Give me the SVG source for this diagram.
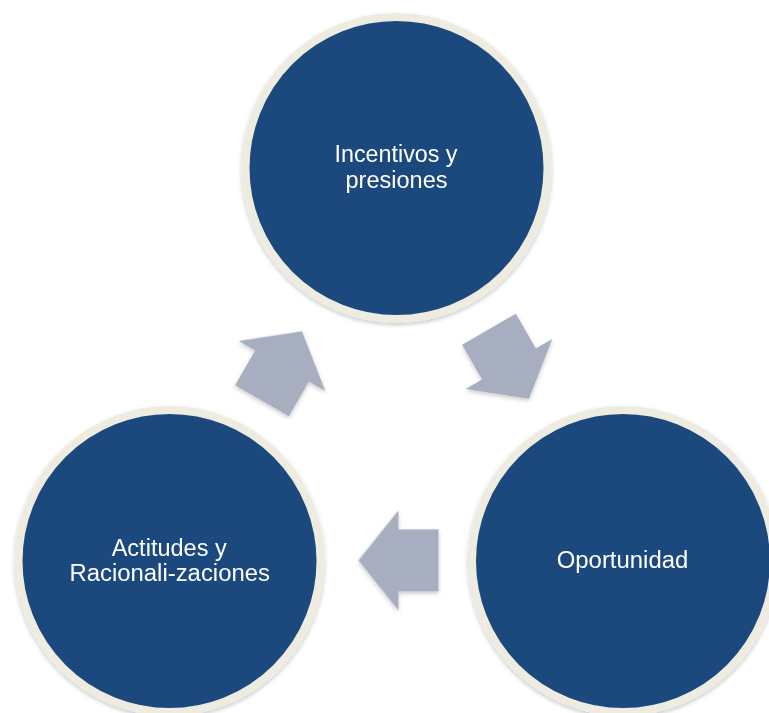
<svg xmlns="http://www.w3.org/2000/svg" width="769" height="713" viewBox="0 0 769 713">
  <style>
    .node circle { fill: #1F497D; stroke: #EEECE1; stroke-width: 8; }
    .label { font-family: "Liberation Sans", Arial, sans-serif; font-size: 23px; fill: #FFFFFF; text-anchor: middle; }
    .arrow { fill: #A7AEBF; }
  </style>
  <defs>
    <filter id="shadow" x="-20%" y="-20%" width="140%" height="140%">
      <feDropShadow dx="0" dy="2" stdDeviation="2" flood-color="#000000" flood-opacity="0.22"/>
    </filter>
    <path id="blockArrow" d="M -40,-31 L 0,-31 L 0,-50 L 40,0 L 0,50 L 0,31 L -40,31 Z"/>
  </defs>
  <rect x="0" y="0" width="769" height="713" fill="#FFFFFF"/>

  <g id="connectors" class="arrow" filter="url(#shadow)">
    <use href="#blockArrow" transform="translate(509,364) rotate(60)"/>
    <use href="#blockArrow" transform="translate(398.5,560.5) rotate(180)"/>
    <use href="#blockArrow" transform="translate(282,366) rotate(-60)"/>
  </g>

  <g id="node-incentivos" class="node">
    <circle cx="396.5" cy="168" r="151" filter="url(#shadow)"/>
    <text class="label" x="396" y="162.3" textLength="123" lengthAdjust="spacingAndGlyphs">Incentivos y</text>
    <text class="label" x="396.5" y="187.5" textLength="102" lengthAdjust="spacingAndGlyphs">presiones</text>
  </g>

  <g id="node-oportunidad" class="node">
    <circle cx="623" cy="561" r="151" filter="url(#shadow)"/>
    <text class="label" x="622.5" y="567.7" textLength="131.5" lengthAdjust="spacingAndGlyphs">Oportunidad</text>
  </g>

  <g id="node-actitudes" class="node">
    <circle cx="169.5" cy="561" r="151" filter="url(#shadow)"/>
    <text class="label" x="169.2" y="555.7" textLength="115" lengthAdjust="spacingAndGlyphs">Actitudes y</text>
    <text class="label" x="169.7" y="581" textLength="200.5" lengthAdjust="spacingAndGlyphs">Racionali-zaciones</text>
  </g>
</svg>
